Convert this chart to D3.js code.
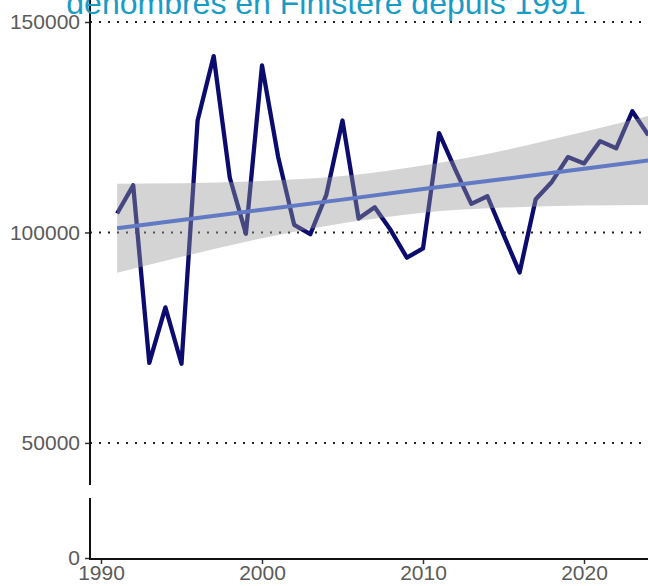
<!doctype html>
<html>
<head>
<meta charset="utf-8">
<style>
  body { margin: 0; background: #fff; }
  svg { display: block; }
  .tick text { fill: #5a5a5a; font: 21px "Liberation Sans", Arial, sans-serif; }
  .tick line { stroke: #333; stroke-width: 1.5px; }
</style>
</head>
<body>
<svg width="648" height="586"></svg>
<script src="https://cdn.jsdelivr.net/npm/d3@7"></script>
<script>
var title = "dénombrés en Finistère depuis 1991";

var years = [1991, 1992, 1993, 1994, 1995, 1996, 1997, 1998, 1999, 2000,
             2001, 2002, 2003, 2004, 2005, 2006, 2007, 2008, 2009, 2010,
             2011, 2012, 2013, 2014, 2015, 2016, 2017, 2018, 2019, 2020,
             2021, 2022, 2023, 2024];
var counts = [104500, 111200, 69000, 82200, 68800, 126600, 141900, 113000, 99700, 139700,
              118000, 101800, 99600, 109000, 126600, 103300, 106000, 100500, 94000, 96200,
              123600, 115000, 106800, 108600, 99500, 90500, 107900, 112000, 117900, 116400,
              121700, 120000, 128800, 123100];

// linear trend + confidence band
var fitYears = [1991, 1995, 2000, 2005, 2010, 2015, 2020, 2024];
var fitValues = [101000, 102950, 105400, 107800, 110300, 112700, 115150, 117100];
var fitLower = [90400, 94200, 98600, 102200, 104700, 105900, 106400, 106500];
var fitUpper = [111600, 111700, 112200, 113400, 115900, 119500, 123900, 127700];

var xTicks = [1990, 2000, 2010, 2020];
var yTicks = [0, 50000, 100000, 150000];
var gridTicks = [50000, 100000, 150000];

var svg = d3.select("svg");

var x = d3.scaleLinear().domain([1990, 2020]).range([101, 584]);
// broken y axis: small segment for 0, main segment from 40000 up
var y = d3.scaleLinear()
    .domain([0, 5000, 40000, 150000])
    .range([558, 498, 485, 22]);

var axisX = 90, axisY = 559;

// dotted grid lines
svg.append("g")
  .selectAll("line")
  .data(gridTicks)
  .join("line")
    .attr("x1", axisX)
    .attr("x2", 660)
    .attr("y1", function(d) { return y(d); })
    .attr("y2", function(d) { return y(d); })
    .attr("stroke", "#222")
    .attr("stroke-width", 2)
    .attr("stroke-dasharray", "2,7");

// data line
var line = d3.line()
    .x(function(d, i) { return x(years[i]); })
    .y(function(d) { return y(d); });

svg.append("path")
    .datum(counts)
    .attr("fill", "none")
    .attr("stroke", "#0c0c6e")
    .attr("stroke-width", 4.3)
    .attr("stroke-linejoin", "round")
    .attr("d", line);

// confidence band
var band = d3.area()
    .x(function(d, i) { return x(fitYears[i]); })
    .y0(function(d, i) { return y(fitLower[i]); })
    .y1(function(d, i) { return y(fitUpper[i]); })
    .curve(d3.curveMonotoneX);

svg.append("path")
    .datum(fitYears)
    .attr("fill", "#999")
    .attr("fill-opacity", 0.42)
    .attr("d", band);

// trend line
var fitLine = d3.line()
    .x(function(d, i) { return x(fitYears[i]); })
    .y(function(d) { return y(d); });

svg.append("path")
    .datum(fitValues)
    .attr("fill", "none")
    .attr("stroke", "#6279c4")
    .attr("stroke-width", 4)
    .attr("d", fitLine);

// axes
svg.append("g")
    .attr("transform", "translate(" + axisX + ",0)")
    .call(d3.axisLeft(y).tickValues(yTicks).tickSize(5).tickPadding(5).tickFormat(d3.format("d")))
  .select(".domain").remove();

svg.append("g")
    .attr("transform", "translate(0," + axisY + ")")
    .call(d3.axisBottom(x).tickValues(xTicks).tickSize(5).tickPadding(1).tickFormat(d3.format("d")))
  .select(".domain").remove();

// y axis line with a break
svg.append("line")
    .attr("x1", axisX).attr("x2", axisX)
    .attr("y1", -5).attr("y2", y(40000))
    .attr("stroke", "#111").attr("stroke-width", 2);
svg.append("line")
    .attr("x1", axisX).attr("x2", axisX)
    .attr("y1", y(5000)).attr("y2", axisY + 1)
    .attr("stroke", "#111").attr("stroke-width", 2);
// x axis line
svg.append("line")
    .attr("x1", axisX - 1).attr("x2", 660)
    .attr("y1", axisY).attr("y2", axisY)
    .attr("stroke", "#111").attr("stroke-width", 2);

// title (cut off at the top, as in the picture)
svg.append("text")
    .attr("x", 326)
    .attr("y", 14)
    .attr("text-anchor", "middle")
    .style("font", "32px 'Liberation Sans', Arial, sans-serif")
    .style("fill", "#1a9bc6")
    .text(title);
</script>
</body>
</html>
